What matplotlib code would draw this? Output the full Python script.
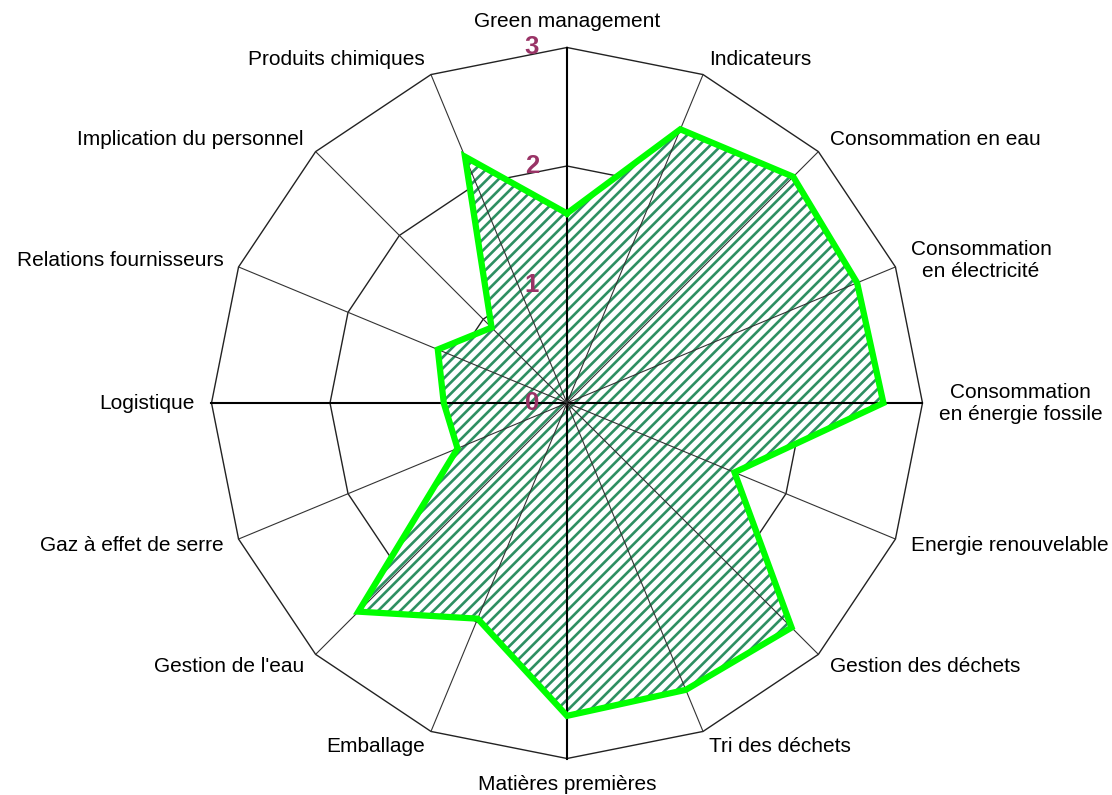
import numpy as np
import matplotlib
matplotlib.use("Agg")
import matplotlib.pyplot as plt

categories = ["Green management", "Indicateurs", "Consommation en eau",
              "Consommation\nen électricité", "Consommation\nen énergie fossile",
              "Energie renouvelable", "Gestion des déchets", "Tri des déchets",
              "Matières premières", "Emballage", "Gestion de l'eau",
              "Gaz à effet de serre", "Logistique", "Relations fournisseurs",
              "Implication du personnel", "Produits chimiques"]
values = [1.6, 2.5, 2.7, 2.65, 2.67, 1.53, 2.68, 2.62, 2.64, 1.97, 2.49,
          1.0, 1.04, 1.18, 0.9, 2.25]
levels = [0, 1, 2, 3]
level_labels = ["0", "1", "2", "3"]

plt.rcParams['font.family'] = ['Liberation Sans', 'DejaVu Sans']
plt.rcParams['hatch.linewidth'] = 1.9
plt.rcParams['hatch.color'] = '#2E8F62'

W, H, DPI = 1112, 795, 100
cx, cy = 567, 403
unit = 118.5

fig = plt.figure(figsize=(W / DPI, H / DPI), dpi=DPI)
ax = fig.add_axes([0, 0, 1, 1])
ax.set_xlim(-cx / unit, (W - cx) / unit)
ax.set_ylim(-(H - cy) / unit, cy / unit)
ax.axis('off')

n = len(categories)
ang = np.arange(n) * 2 * np.pi / n
sx, sy = np.sin(ang), np.cos(ang)

# polygon grid
for lv in levels[1:]:
    ax.plot(np.append(sx, sx[0]) * lv, np.append(sy, sy[0]) * lv,
            color='#222222', lw=1.0, zorder=1)

# data fill
v = np.array(values)
px, py = v * sx, v * sy
ax.fill(px, py, facecolor='white', edgecolor='#2E8F62', hatch='///', lw=0, zorder=2)

# radial lines
rmax = levels[-1]
for i in range(n):
    main = (i % 4 == 0)
    ax.plot([0, sx[i] * rmax], [0, sy[i] * rmax], color='black' if main else '#333333',
            lw=1.5 if main else 0.8, zorder=3)

# outline
ax.plot(np.append(px, px[0]), np.append(py, py[0]), color='#00FF00', lw=4.5,
        solid_joinstyle='miter', zorder=4)

# level labels
for lv, lab in zip(levels, level_labels):
    ax.text(-35 / unit, lv, lab, color='#993366', fontsize=18.5, fontweight='bold',
            ha='center', va='center', zorder=5)

# category labels
R = 372 / unit
for i, lab in enumerate(categories):
    x, y = sx[i] * R, sy[i] * R
    if abs(sx[i]) < 1e-6:
        ha = 'center'
        va = 'bottom' if sy[i] > 0 else 'top'
    else:
        ha = 'left' if sx[i] > 0 else 'right'
        va = 'center'
    ax.text(x, y, lab, ha=ha, va=va, fontsize=15, multialignment='center',
            color='black', zorder=5)

fig.savefig('out.png', dpi=DPI)
